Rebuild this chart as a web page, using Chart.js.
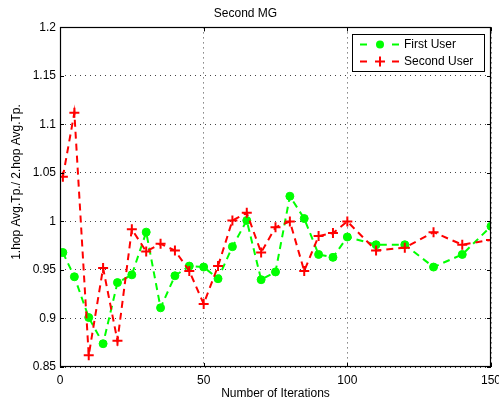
<!DOCTYPE html>
<html>
<head>
<meta charset="utf-8">
<script src="https://cdn.jsdelivr.net/npm/chart.js@4/dist/chart.umd.min.js"></script>
<style>
html,body{margin:0;padding:0;background:#fff;}
#wrap{width:499px;height:403px;}
</style>
</head>
<body>
<div id="wrap"><canvas id="c" width="499" height="403"></canvas></div>
<script>
const chartTitle = 'Second MG';
const xTitle = 'Number of Iterations';
const yTitle = '1.hop Avg.Tp./ 2.hop Avg.Tp.';
const seriesNames = ['First User', 'Second User'];
const iterations = [1,5,10,15,20,25,30,35,40,45,50,55,60,65,70,75,80,85,90,95,100,110,120,130,140,150];
const firstUser = [0.968,0.943,0.901,0.874,0.937,0.945,0.989,0.911,0.944,0.954,0.953,0.941,0.974,1.001,0.940,0.948,1.026,1.003,0.966,0.963,0.984,0.976,0.976,0.953,0.966,0.995];
const secondUser = [1.046,1.112,0.862,0.952,0.877,0.992,0.969,0.977,0.970,0.949,0.915,0.954,1.001,1.009,0.968,0.994,1.000,0.949,0.985,0.988,1.000,0.970,0.973,0.989,0.976,0.981];
const xTicks = [0,50,100,150];
const xTickLabels = ['0','50','100','150'];
const yTicks = [0.85,0.9,0.95,1,1.05,1.1,1.15,1.2];
const yTickLabels = ['0.85','0.9','0.95','1','1.05','1.1','1.15','1.2'];

const FONT = '"Liberation Sans", Arial, Helvetica, sans-serif';
const GREEN = '#00ff00';
const RED = '#ff0000';

function pts(ys){ return iterations.map((x,i)=>({x:x,y:ys[i]})); }

const framePlugin = {
  id:'frame',
  afterDraw(chart){
    const {ctx, chartArea:a, scales:{x,y}} = chart;
    ctx.save();
    ctx.strokeStyle = '#000';
    ctx.lineWidth = 1;
    ctx.beginPath();
    y.ticks.forEach(t=>{
      const py = Math.round(y.getPixelForValue(t.value))+0.5;
      ctx.moveTo(a.left,py); ctx.lineTo(a.left+4,py);
      ctx.moveTo(a.right,py); ctx.lineTo(a.right-4,py);
    });
    x.ticks.forEach(t=>{
      const px = Math.round(x.getPixelForValue(t.value))+0.5;
      ctx.moveTo(px,a.bottom); ctx.lineTo(px,a.bottom-4);
      ctx.moveTo(px,a.top); ctx.lineTo(px,a.top+4);
    });
    ctx.stroke();
    ctx.lineWidth = 1.2;
    ctx.strokeRect(Math.round(a.left)+0.5, Math.round(a.top)+0.5, Math.round(a.right-a.left)-1, Math.round(a.bottom-a.top)-1);

    // y axis title
    ctx.fillStyle = '#000';
    ctx.font = '12px ' + FONT;
    ctx.textAlign = 'center';
    ctx.textBaseline = 'middle';
    ctx.translate(17, 182);
    ctx.rotate(-Math.PI/2);
    ctx.fillText(yTitle, 0, 0);
    ctx.setTransform(1,0,0,1,0,0);

    // legend
    const lx = 352, ly = 34, lw = 132, lh = 37;
    ctx.fillStyle = '#fff';
    ctx.fillRect(lx, ly, lw, lh);
    ctx.strokeStyle = '#000';
    ctx.lineWidth = 1;
    ctx.strokeRect(lx+0.5, ly+0.5, lw, lh);
    const ds = chart.data.datasets;
    const rows = [44.5, 61.5];
    ds.forEach((d,i)=>{
      const yy = rows[i];
      ctx.save();
      ctx.strokeStyle = d.borderColor;
      ctx.lineWidth = 2;
      ctx.setLineDash([7,25]);
      ctx.beginPath();
      ctx.moveTo(360, yy); ctx.lineTo(400, yy);
      ctx.stroke();
      ctx.setLineDash([]);
      if (d.pointStyle === 'circle') {
        ctx.fillStyle = d.pointBackgroundColor;
        ctx.beginPath(); ctx.arc(380, yy, 4, 0, Math.PI*2); ctx.fill();
      } else {
        ctx.strokeStyle = d.pointBorderColor;
        ctx.lineWidth = 2;
        ctx.beginPath();
        ctx.moveTo(375, yy); ctx.lineTo(385, yy);
        ctx.moveTo(380, yy-5); ctx.lineTo(380, yy+5);
        ctx.stroke();
      }
      ctx.restore();
      ctx.fillStyle = '#000';
      ctx.font = '12px ' + FONT;
      ctx.textAlign = 'left';
      ctx.textBaseline = 'middle';
      ctx.fillText(d.label, 404, yy);
    });
    ctx.restore();
  }
};

new Chart(document.getElementById('c'), {
  type: 'line',
  data: {
    datasets: [
      {
        label: seriesNames[0],
        data: pts(firstUser),
        borderColor: GREEN,
        backgroundColor: GREEN,
        borderWidth: 2,
        borderDash: [7,5],
        pointStyle: 'circle',
        pointRadius: 4,
        pointBackgroundColor: GREEN,
        pointBorderColor: GREEN,
        pointBorderWidth: 1,
        tension: 0,
        order: 1
      },
      {
        label: seriesNames[1],
        data: pts(secondUser),
        borderColor: RED,
        backgroundColor: RED,
        borderWidth: 2,
        borderDash: [7,5],
        pointStyle: 'cross',
        pointRadius: 5,
        pointBackgroundColor: RED,
        pointBorderColor: RED,
        pointBorderWidth: 2,
        tension: 0,
        order: 0
      }
    ]
  },
  options: {
    responsive: false,
    animation: false,
    devicePixelRatio: 1,
    layout: { padding: { left: 0, right: 8, top: 0, bottom: 0 } },
    plugins: {
      legend: { display: false },
      tooltip: { enabled: false },
      title: {
        display: true,
        text: chartTitle,
        color: '#000',
        font: { family: FONT, size: 12, weight: 'normal' },
        padding: { top: 6, bottom: 7 }
      }
    },
    scales: {
      x: {
        type: 'linear',
        min: 0, max: 150,
        afterBuildTicks(s){ s.ticks = xTicks.map(v=>({value:v})); },
        afterFit(s){ s.height = 36; s.paddingLeft = 0; s.paddingRight = 0; },
        ticks: {
          color: '#000',
          font: { family: FONT, size: 12 },
          padding: 6,
          maxRotation: 0,
          autoSkip: false,
          callback(v){ const i = xTicks.indexOf(v); return i>=0 ? xTickLabels[i] : ''; }
        },
        grid: { color: '#444', lineWidth: 1, drawTicks: false },
        border: { display: false, dash: [1,4] },
        title: {
          display: true,
          text: xTitle,
          color: '#000',
          font: { family: FONT, size: 12 },
          padding: { top: 0, bottom: 2 }
        }
      },
      y: {
        type: 'linear',
        min: 0.85, max: 1.2,
        afterBuildTicks(s){ s.ticks = yTicks.map(v=>({value:v})); },
        afterFit(s){ s.width = 60; s.paddingTop = 0; s.paddingBottom = 0; },
        ticks: {
          color: '#000',
          font: { family: FONT, size: 12 },
          padding: 4,
          autoSkip: false,
          callback(v){ const i = yTicks.findIndex(t=>Math.abs(t-v)<1e-9); return i>=0 ? yTickLabels[i] : ''; }
        },
        grid: { color: '#444', lineWidth: 1, drawTicks: false },
        border: { display: false, dash: [1,4] }
      }
    }
  },
  plugins: [framePlugin]
});
</script>
</body>
</html>
